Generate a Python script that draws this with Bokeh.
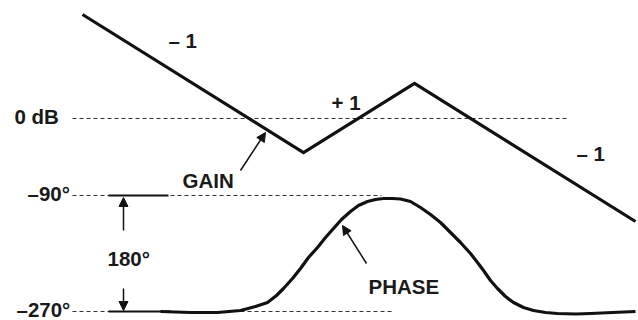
from bokeh.plotting import figure
from bokeh.models import Range1d, Arrow, NormalHead
from bokeh.core.properties import value
from bokeh.embed import file_html
from bokeh.resources import INLINE

# ---- data (diagram units: x = log-frequency position, y = level, downward) ----
gain_x = [82, 303, 414, 635]
gain_y = [14, 152, 83, 221]

phase_x = [160, 190, 217, 240, 255, 267, 276, 283, 292, 300, 308, 317, 325,
           333, 341, 350, 358, 367, 375, 383, 392, 400, 410, 420, 430, 440,
           450, 460, 470, 477, 483, 490, 497, 505, 513, 523, 533, 545, 557,
           575, 590, 612, 635]
phase_y = [311, 312, 312, 310, 306, 302, 295, 288, 278, 268, 257, 247, 237,
           228, 219, 211, 205, 201, 199, 198, 198, 198.5, 201, 207, 214, 222,
           232, 242, 253, 262, 270, 280, 288, 296, 302, 307, 310, 312, 313,
           313.5, 313, 312, 311]

ref_levels = [118, 195, 311]          # 0 dB, -90 deg, -270 deg
ref_starts = [72, 72, 72]
ref_ends = [567, 381, 394]

span_levels = [195, 311]              # solid bars marking the 180 deg span
span_starts = [108, 108]
span_ends = [168, 170]

labels = ["0 dB", "– 1", "+ 1", "– 1", "GAIN", "–90°", "180°", "–270°", "PHASE"]
label_x = [14, 168, 331, 576, 182, 27, 107, 16, 368]
label_y = [116, 40, 102, 153, 180, 193, 258, 309, 286]

# arrows: (x_start, y_start, x_end, y_end)
arrow_x0 = [240, 366, 123, 123]
arrow_y0 = [170, 263, 230, 288]
arrow_x1 = [265, 342, 123, 123]
arrow_y1 = [132, 225, 197, 310]

p = figure(width=638, height=320, output_backend="svg", toolbar_location=None,
           x_range=Range1d(0, 638), y_range=Range1d(320, 0),
           min_border=0)
p.xaxis.visible = False
p.yaxis.visible = False
p.grid.visible = False
p.outline_line_color = None
p.background_fill_color = "white"
p.border_fill_color = "white"

# dashed reference lines
for lv, xs, xe in zip(ref_levels, ref_starts, ref_ends):
    p.line([xs, xe], [lv, lv], line_color="#333333", line_width=1,
           line_dash="4 3")

# solid span bars
for lv, xs, xe in zip(span_levels, span_starts, span_ends):
    p.line([xs, xe], [lv, lv], line_color="#111111", line_width=2)

# gain and phase curves
p.line(gain_x, gain_y, line_color="#111111", line_width=3.2,
       line_join="miter")
p.line(phase_x, phase_y, line_color="#111111", line_width=3.2,
       line_join="round")

# arrows
for x0, y0, x1, y1 in zip(arrow_x0, arrow_y0, arrow_x1, arrow_y1):
    p.add_layout(Arrow(end=NormalHead(size=9, fill_color="#111111",
                                      line_color="#111111", line_width=1),
                       x_start=x0, y_start=y0, x_end=x1, y_end=y1,
                       line_color="#111111", line_width=1.5))

p.text(x=label_x, y=label_y, text=labels,
       text_font=value("Liberation Sans"), text_font_style="bold",
       text_font_size="20.5px", text_color="#1a1a1a",
       text_align="left", text_baseline="alphabetic")

open("out.html", "w").write(file_html(p, INLINE))
